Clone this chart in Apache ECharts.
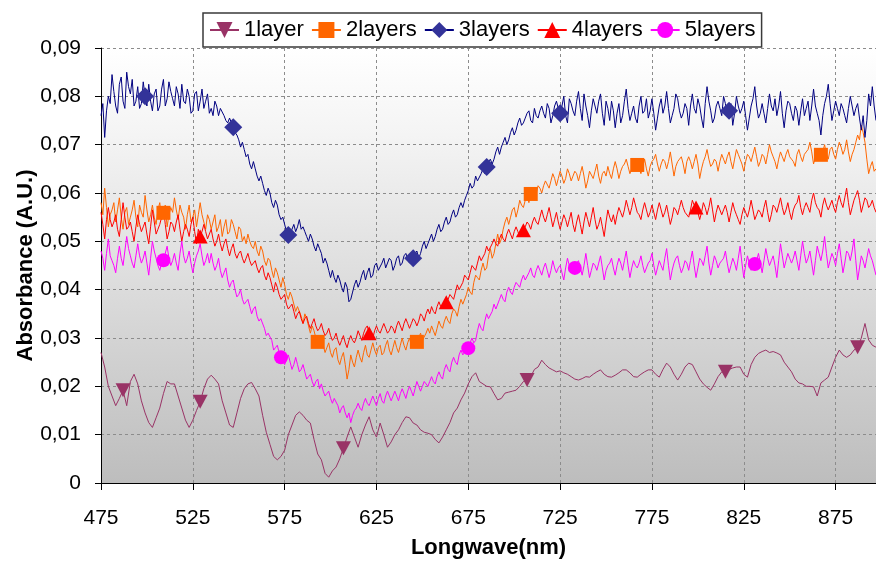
<!DOCTYPE html>
<html>
<head>
<meta charset="utf-8">
<script src="https://cdn.jsdelivr.net/npm/echarts@6/dist/echarts.min.js"></script>
<style>
  html, body { margin: 0; padding: 0; background: #ffffff; }
  #chart { width: 876px; height: 561px; }
</style>
</head>
<body>
<div id="chart"></div>
<script>
// Absorbance spectra of 1 to 5 deposited layers (values in 10^-3 A.U.), starting at 475 nm
const START_NM = 475;
const SCALE = 1000;

const seriesNames = ['1layer', '2layers', '3layers', '4layers', '5layers'];

// 1layer, sampled every 2 nm
const layer1 = [
  27, 24, 20, 18, 16, 17.5, 19.2, 16, 21, 22.5,
  20.5, 17, 14.5, 12.5, 11.5, 13.5, 15.5, 18.5, 21, 20.5,
  20.5, 18, 15.5, 13, 11.5, 13, 15, 16.8, 19.5, 21.5,
  22.3, 21.5, 20.5, 17, 14.5, 12, 11.5, 14.5, 17.5, 19.5,
  20.5, 20.8, 19.5, 18, 14, 10.5, 8, 5.5, 4.8, 5.5,
  6.8, 10, 12, 14, 14.7, 14, 13, 12.4, 9, 6,
  4.8, 2, 1.2, 2.5, 3.3, 5, 7.2, 9.5, 11.6, 9.5,
  7.4, 10, 12, 13.7, 11, 9.5, 12.4, 10, 7.4, 8.5,
  10, 11, 12.5, 13.7, 13.5, 12.4, 12, 11, 10.5, 10.3,
  10, 9, 8.3, 9.5, 11, 12.5, 14.5, 15.5, 17.2, 18.6,
  20.5, 22, 22.8, 21, 20.5, 20, 19.9, 18.5, 17.2, 17.5,
  18.6, 18.8, 19, 19.2, 20, 21, 21.3, 22, 23.5, 24,
  25.4, 24.5, 23.8, 23.4, 23, 23.2, 22.8, 22.5, 22, 21.5,
  21.3, 21.6, 22, 21.9, 22.5, 23, 23.4, 22.5, 22, 21.9,
  22.3, 22.8, 23.4, 23.4, 22.8, 22, 21.9, 22.5, 23, 23.4,
  23.4, 22.5, 21.9, 23.5, 24.8, 24, 22.5, 21.3, 22.5, 24,
  24.8, 24.5, 23, 21.5, 20.5, 19.8, 19.2, 20.5, 22, 23,
  23, 23.5, 23.8, 24, 24, 22.5, 21.9, 24.5, 26, 26.8,
  27.2, 27.5, 27, 27.2, 26.9, 26.5, 25, 24, 23, 21.5,
  20.7, 20.5, 20, 20, 19.9, 18, 20.7, 21.3, 21.9, 24,
  26, 27.5, 26.5, 26, 26.5, 27.5, 28.1, 30, 33, 29.6,
  28.5, 28.1
];

// 2layers to 5layers, sampled every 1 nm (one row = 20 nm)
const layer2 = [
  58, 55.5, 61, 57, 53, 55.5, 56.5, 58, 54, 56.5, 59, 55, 52.5, 56, 57, 53.5, 55, 56.5, 58.5, 55,
  53, 57.5, 56, 55, 59.5, 56.5, 54, 55.5, 57.5, 55, 53.5, 56.5, 58, 54.5, 55.9, 57.5, 53, 55.5, 57, 56,
  59, 56.5, 54.5, 57.5, 56, 55, 52.5, 55.5, 57.5, 54, 55, 56.5, 53, 55.5, 58, 55.5, 54, 52.5, 55.5, 54.5,
  52.5, 54, 55.5, 52, 53, 54.5, 51, 53, 54.5, 51.5, 52, 54.5, 53.5, 52, 50.5, 53, 52.5, 50, 51, 49.5,
  51.5, 50, 49, 48.5, 50, 48, 47, 49, 48, 46, 45, 46.5, 46, 44, 42.5, 44.5, 43.5, 42, 40.5, 42.5,
  41, 39, 38, 39.5, 38.5, 37, 35.5, 36.5, 36.5, 34.5, 33, 35, 34, 32.5, 31, 32.5, 31.5, 30, 29.2, 28.5,
  30.5, 28.5, 27, 28, 29, 27, 26, 27.5, 28, 25.5, 24.5, 26, 27, 24.5, 21.5, 23.5, 26.5, 25, 24, 26,
  27.5, 26, 25, 27, 28.5, 26.5, 26, 27.5, 29, 27.5, 26.5, 28, 28.5, 26.5, 27, 28.5, 29.5, 27.5, 26.5, 28,
  29.5, 28, 27, 28.5, 30, 28.5, 27.5, 29, 30, 28.5, 28, 30, 29.2, 30, 31, 29.5, 29.5, 31, 32, 31,
  32.5, 31.5, 30.5, 32, 33.5, 32.5, 32, 33.5, 34.5, 33.5, 33, 35, 36, 35.5, 34.5, 36.5, 38, 37, 37, 39,
  40.5, 39.5, 39, 41.5, 43, 42.5, 42, 44, 45.5, 44, 44.5, 47, 48.5, 46.5, 47.5, 49.5, 51.5, 49.5, 50.5, 52.5,
  54, 55, 53.5, 55, 56.5, 57, 55, 56.5, 58.5, 57.5, 57, 58.5, 59.5, 58, 59.8, 60.5, 58.5, 60, 61.5, 61,
  60, 61.5, 62.5, 62.5, 61, 62.5, 64, 63, 61.5, 63, 64.5, 63.5, 62, 63, 65, 64, 62.5, 63.5, 64.5, 64,
  62.5, 64, 65.5, 63.5, 61, 62.5, 64.5, 64.5, 63, 64.5, 66, 63.5, 62, 64, 64.5, 63.5, 65.5, 64, 63, 65,
  66.5, 65, 63, 64.5, 65.5, 66, 67, 65.5, 64, 65, 66, 66.5, 65.8, 65, 64, 65.5, 67, 65, 63.5, 65.5,
  66.5, 67, 68, 66, 64.5, 66, 67, 66.5, 65, 66.5, 68.5, 66, 63.5, 65.5, 66.5, 67, 67.5, 66, 64, 66.5,
  67.5, 66.5, 65, 66.5, 68, 66, 63, 65, 66.5, 67.5, 69, 67, 65.5, 66, 67, 66.5, 64.5, 66.5, 68, 67,
  66, 67.5, 68.5, 66.5, 65, 67, 69, 68, 67, 66, 64.5, 66.5, 68, 67.5, 66.5, 68, 69.5, 67.5, 65.5, 66.5,
  68, 67.5, 66, 68, 70, 68.5, 67.5, 66.5, 65, 67, 68.5, 67.5, 66.5, 68, 69, 67.5, 67, 66.5, 65.5, 68,
  69, 67.5, 66.5, 68, 68.5, 69, 70.5, 68.5, 66, 67.5, 68, 69, 67.9, 68.5, 70, 68, 67, 69, 69.5, 68,
  67, 69, 70.5, 69.5, 68, 69, 71, 68.5, 66.5, 68, 69, 70.5, 72, 71, 74, 72.5, 70.5, 67, 64, 65.5,
  66.5, 64.5, 65
];

const layer3 = [
  76, 78.5, 71.5, 77, 80, 78.5, 84.5, 81, 78, 76.5, 82.5, 84, 79, 77.5, 85, 82, 80.5, 83.5, 78, 79,
  82, 77.5, 78.5, 83, 80, 78, 82.5, 79, 77, 80.5, 81.5, 77, 78, 81.5, 83.5, 78, 79.5, 83, 81, 79.5,
  78, 82, 80.5, 77.5, 82.5, 79, 78.5, 81.5, 80, 76.5, 77, 80.5, 81, 77, 79, 81.5, 77.5, 79, 80.5, 76.5,
  77.5, 76, 79, 78, 76, 77.5, 77.5, 76, 75, 74.5, 75.5, 75.5, 73.6, 72.5, 72, 71, 69.5, 70.5, 69, 67.5,
  68, 66, 65, 66.5, 65, 63.5, 62.5, 63.5, 62, 60.5, 59.5, 61, 60, 58, 57, 58.5, 57.5, 55.5, 54.5, 55,
  53.5, 52, 51.3, 50.5, 52.5, 53.5, 52, 53, 54.5, 52.5, 53, 52, 51, 50, 51.5, 50.5, 49, 48, 49.5, 48.5,
  47.5, 45.5, 46.5, 45.5, 44, 42.5, 44, 42.5, 41.5, 43, 42, 40.5, 39.5, 41.5, 40.5, 37.5, 38, 39.5, 41, 42,
  40.5, 41.5, 43, 44, 42, 43.5, 44.5, 42.5, 43, 45, 45.5, 44, 44, 45.5, 46.5, 44.5, 44.5, 46.5, 46, 44,
  45, 46.5, 47, 45, 45.5, 47, 47.5, 46.5, 45.5, 47, 46.5, 47.5, 48, 46.5, 47.5, 49, 50, 48.5, 49.5, 50.5,
  51.5, 50, 51, 52.5, 53.5, 52, 52.5, 54, 55, 53.5, 54, 55.5, 56.5, 55, 55.5, 57, 58, 57, 58.5, 59.5,
  60.5, 62, 61, 61.5, 63.5, 62.5, 62.5, 64, 65, 64, 65.4, 66.5, 67, 66, 67, 68.5, 69.5, 68, 69.5, 70.5,
  71.5, 70, 71, 72.5, 73.5, 72, 73, 74.5, 75.5, 74, 74.5, 75.5, 76.5, 77, 75, 74.5, 77.5, 76, 75.5, 77,
  78, 76.5, 75.5, 78.5, 77.5, 74.5, 76, 78, 79, 77.5, 76.5, 78, 80, 76, 74.5, 79.5, 78.5, 77, 76, 79,
  81, 77.5, 75, 80.5, 78, 76, 73.5, 77, 79.5, 78, 76.5, 79, 80.5, 76.5, 74, 79, 77.5, 75, 79, 77,
  73.5, 76.5, 78.5, 74.5, 76, 79, 81.5, 77.5, 75, 76.5, 78, 75.5, 74.5, 78, 80, 76.5, 77, 79.5, 75.5, 77,
  79.5, 76.5, 73, 75.5, 78, 79.5, 76.5, 78, 81, 77.5, 74.5, 76, 77.5, 80.5, 79.5, 77, 75.5, 76.5, 78.5, 77.5,
  74, 78, 80.5, 77.5, 76.5, 79.5, 78, 75.5, 73.5, 78.5, 82, 79, 77, 74.5, 75.5, 78, 79, 77.5, 76, 80,
  78.5, 76, 77, 78.5, 74, 76.5, 80, 78, 76.5, 77.5, 79, 76, 73, 75.5, 78, 79.5, 82, 78, 75.5, 76.5,
  78.5, 76.5, 74.5, 77.5, 80.5, 78, 77, 79.5, 76, 78, 81, 76.5, 73.5, 77, 79, 78.5, 76.5, 75, 78, 77,
  74, 77, 79.5, 76, 77.5, 79, 75, 78, 81.5, 78, 76.5, 75, 72, 76, 78.5, 80, 82.5, 78.5, 75, 77,
  79, 77.5, 76, 78.5, 77.5, 76, 74.5, 77.5, 80, 78, 76, 77.5, 78.5, 75.5, 73, 76, 71.5, 75, 80.5, 78,
  82, 78, 75
];

const layer4 = [
  56, 53.5, 50.5, 54.5, 57, 54.5, 53, 54, 55.5, 52.5, 51, 54.5, 58, 55, 52.5, 53, 54, 52, 50, 53,
  55.5, 53.5, 52, 53, 54, 51.5, 49.5, 53, 56.5, 54, 51.5, 52.5, 53.5, 55, 57, 53.5, 50.5, 52, 54, 53.5,
  52, 54, 55.5, 52.5, 50, 52, 53.5, 52.5, 51, 53.5, 55, 52, 49.5, 52.5, 51, 52, 53.5, 52, 50.5, 51.5,
  52.5, 50.5, 49, 50, 51.5, 49.5, 48, 49.5, 50.5, 48.5, 47, 48.5, 49.5, 47.5, 46.5, 47.5, 48, 46.5, 45.5, 46.5,
  47.5, 46, 45, 45.5, 46, 44.5, 43.5, 44.5, 45, 43, 42, 43.5, 42.5, 41, 39.5, 41.5, 40.5, 39, 38, 38.5,
  39, 37, 36, 36.5, 37, 35.5, 34, 35, 35.5, 34, 33, 34, 34.5, 33, 32, 33, 34, 32.5, 31.5, 32,
  33, 31.5, 30.5, 31, 32, 30.5, 29.5, 30, 31, 29.5, 28.5, 29.5, 30.5, 29, 28, 29.5, 30.5, 29.5, 29, 30,
  31.5, 30.5, 29.5, 31, 32, 32.5, 31, 30.5, 30, 31.5, 32.5, 31.5, 31, 32, 33, 32, 31, 31.5, 32.5, 32,
  31, 32.5, 33.5, 32.5, 31.5, 33, 34, 33, 32, 33, 34, 33.5, 32.5, 33.5, 35, 34.5, 33.5, 35, 36, 35,
  36.5, 35.5, 35, 36.5, 37.5, 36.5, 36, 37, 37.4, 38, 39, 38.5, 38, 39.5, 41, 40, 40, 41.5, 43, 42.5,
  42, 43.5, 45, 44.5, 44, 45.5, 47, 46, 46, 47.5, 49, 48, 48, 49.5, 50.5, 49.5, 49, 50.5, 51.5, 50.5,
  50, 51.5, 52.5, 51.5, 50.5, 52, 53, 52, 51, 51.5, 52.3, 53, 54, 53.5, 52.5, 54, 55, 54, 53.5, 55,
  56.5, 55, 54, 55.5, 57, 55, 53, 54.5, 56, 54, 52.5, 54, 55.5, 54.5, 53, 54.5, 56, 53.5, 52, 54,
  55.5, 53.5, 51.5, 54, 56, 54.5, 53, 55, 57, 54.5, 52.5, 53.5, 55, 53, 51, 54, 56.5, 55, 54, 55.5,
  53.5, 55.5, 57, 56, 55, 56.5, 58.5, 57, 55.5, 57, 59, 57.5, 56, 55.5, 54.5, 56.5, 58, 56.5, 55, 56,
  57.5, 56, 54.5, 56.5, 58, 56.5, 55, 56, 57.5, 55.5, 53.5, 55, 57, 56.5, 55.5, 57, 58.5, 57, 56, 56,
  55, 56.5, 58.5, 57.5, 57, 56, 54.5, 56, 58, 57, 55.5, 57, 59, 56.5, 54, 56, 57.5, 56.5, 55.5, 56.5,
  57.5, 56, 54, 56, 58, 56.5, 55.5, 54.5, 53.5, 55.5, 57, 56, 55, 56.5, 58.5, 56.5, 54.5, 55.5, 56.5, 56,
  55, 57, 58.5, 56, 54, 55.5, 57.5, 57, 56, 57.5, 59, 57, 55.5, 56.5, 58, 56, 54.5, 56.5, 57.5, 58,
  59.5, 57, 55.5, 57, 58, 57, 56, 58.5, 60, 58, 57, 56.5, 55, 57.5, 59, 57.5, 56.5, 57.5, 58.5, 57,
  56, 58, 59.5, 58, 57, 59, 61, 58, 55.5, 57, 58.5, 59.5, 60.5, 58.5, 56, 57.5, 59, 58.5, 57, 57.5,
  58.5, 57, 56
];

const layer5 = [
  48, 46.5, 44, 47.5, 50.5, 47, 46, 45, 43.5, 46.5, 49, 46.5, 45, 48, 51, 48.5, 47, 45.5, 44.5, 47,
  49.5, 47, 45.5, 46.5, 48, 45.5, 43, 46.5, 50, 48, 46.5, 45, 44, 45.5, 46.1, 47.5, 49, 46.5, 45, 46,
  47.5, 45.5, 44, 47.5, 50, 47, 45.5, 46.5, 48, 45.5, 43.5, 45.5, 47, 48, 49.5, 47, 45, 46, 47.5, 45.5,
  47.5, 45.5, 44, 45, 46.5, 44, 42.5, 43.5, 44.5, 42, 40.5, 41.5, 42, 40, 38.5, 39, 40, 38, 37, 37.5,
  38, 36.5, 35, 36, 36.5, 34.5, 33.5, 34, 34, 32, 30.5, 31, 31, 29.5, 27.5, 28, 28.5, 27, 26, 25.5,
  24.5, 25.5, 26.5, 25, 23.5, 24.5, 26, 24.5, 23, 23.5, 24.5, 23, 21.5, 22, 22.5, 21, 20, 21, 21.5, 19.5,
  20.5, 19, 18, 18.5, 19, 17.5, 16.5, 17.5, 17.5, 16, 14.5, 15.5, 16, 14.5, 13.5, 14.5, 12.5, 14, 15, 15.5,
  16.5, 15.5, 15, 16.5, 17.5, 16.5, 16, 17, 18, 17, 16, 17.5, 18.5, 17, 16.5, 18, 19, 18, 17, 18,
  19, 18, 17, 18.5, 19.5, 18.5, 17.5, 19, 20, 19, 18, 19.5, 21, 20, 19, 20, 21, 20.5, 20, 21,
  22, 21, 20.5, 22, 23, 22, 21.5, 23.5, 24.5, 23.5, 23, 25, 26, 25, 24.5, 26.5, 27.5, 26.5, 26.5, 27.5,
  27.9, 29, 30, 29, 29.5, 31.5, 33, 32, 31.5, 33.5, 35, 34, 34, 35.5, 37, 36, 36, 38, 39, 38,
  37.5, 39.5, 40.5, 39.5, 39, 40.5, 41.5, 41, 40.5, 42, 43, 42, 42, 43.5, 44.5, 43, 42.5, 44, 45, 44,
  43, 44.5, 45.5, 44, 42.5, 44, 46, 44.5, 43.5, 44.5, 45, 43.5, 42, 44.5, 46.5, 45, 43.5, 45, 44.5, 45.5,
  46, 44.5, 43, 45, 47.5, 45, 42.5, 44, 45.5, 45, 44, 45.5, 47, 44.5, 42, 44, 45, 45.5, 46.5, 44.5,
  43, 45, 46.5, 45.5, 44, 46, 48, 45, 42.5, 44.5, 46, 45, 44.5, 45.5, 47, 45, 43.5, 44.5, 45.5, 46,
  47.5, 45, 43, 44.5, 46, 45, 44, 46.5, 48.5, 45, 42, 44, 45.5, 46.5, 47, 45, 43.5, 44.5, 46, 45.5,
  44, 46, 48, 45, 42.5, 44.5, 46.5, 46, 45, 47, 49, 45.5, 43, 45, 47, 46, 44.5, 45.5, 46, 46.5,
  48, 45.5, 43.5, 45, 46.5, 45.5, 44, 46.5, 49, 45.5, 42.5, 45, 47, 45.5, 44, 46.5, 45.3, 46, 47.5, 45.5,
  43.5, 46, 48.5, 46.5, 45, 46, 47, 45, 42.5, 46, 49.5, 47, 44.5, 46, 47.5, 46.5, 45.5, 46.5, 48, 46,
  44, 47, 50, 47.5, 45.5, 46.5, 48, 45.5, 43, 46, 49, 47.5, 46, 48, 51, 47.5, 44.5, 46, 47.5, 46.5,
  45, 47.5, 49.5, 46.5, 43.5, 45.5, 48, 47.5, 46, 48, 50.5, 46, 42, 44.5, 47, 46, 44.5, 46.5, 48.5, 47,
  46, 44.5, 43
];

// Sampling step of each curve (nm)
const stepsNm = [2, 1, 1, 1, 1];

// Wavelengths (nm) that carry a marker on each curve
const markers1 = [487, 529, 607, 707, 815, 887];
const markers2 = [509, 593, 647, 709, 767, 867];
const markers3 = [499, 547, 577, 645, 685, 725, 817];
const markers4 = [529, 621, 663, 705, 799];
const markers5 = [509, 573, 675, 733, 831];

// Axis tick labels
const xTickLabels = ['475', '525', '575', '625', '675', '725', '775', '825', '875'];
const yTickLabels = ['0', '0,01', '0,02', '0,03', '0,04', '0,05', '0,06', '0,07', '0,08', '0,09'];

const FONT = '"Liberation Sans", Arial, sans-serif';

function buildData(values, step, markerNm) {
  return values.map((v, i) => {
    const nm = START_NM + step * i;
    const point = [nm, v / SCALE];
    return markerNm.includes(nm) ? point : { value: point, symbol: 'none' };
  });
}

const styles = [
  { values: layer1, markers: markers1, line: '#993366', fill: '#993366', symbol: 'triangle', size: [15, 14], rotate: 180 },
  { values: layer2, markers: markers2, line: '#FF6600', fill: '#FF6600', symbol: 'rect', size: 14, rotate: 0 },
  { values: layer3, markers: markers3, line: '#000080', fill: '#333399', symbol: 'diamond', size: 18, rotate: 0 },
  { values: layer4, markers: markers4, line: '#FF0000', fill: '#FF0000', symbol: 'triangle', size: [15, 14], rotate: 0 },
  { values: layer5, markers: markers5, line: '#FF00FF', fill: '#FF00FF', symbol: 'circle', size: 14, rotate: 0 }
];

const chart = echarts.init(document.getElementById('chart'), null, { renderer: 'canvas' });

chart.setOption({
  animation: false,
  backgroundColor: '#ffffff',
  textStyle: { fontFamily: FONT },
  grid: {
    left: 101, top: 48, right: 0, bottom: 78,
    show: true,
    borderWidth: 0,
    outerBoundsMode: 'none',
    backgroundColor: {
      type: 'linear', x: 0, y: 0, x2: 0, y2: 1,
      colorStops: [
        { offset: 0, color: '#ffffff' },
        { offset: 0.2, color: '#f4f4f4' },
        { offset: 1, color: '#bdbdbd' }
      ]
    }
  },
  legend: {
    left: 203, top: 13,
    padding: [6, 6],
    itemGap: 7,
    itemWidth: 29,
    itemHeight: 20,
    backgroundColor: '#ffffff',
    borderColor: '#3a3a3a',
    borderWidth: 1.5,
    borderRadius: 0,
    textStyle: { fontSize: 22, color: '#000000', fontFamily: FONT },
    data: seriesNames
  },
  xAxis: {
    type: 'value',
    min: 475, max: 897, interval: 50,
    name: 'Longwave(nm)',
    nameLocation: 'middle',
    nameGap: 54,
    nameMoveOverlap: false,
    nameTextStyle: { fontSize: 22, fontWeight: 'bold', color: '#000000', fontFamily: FONT },
    axisLine: { show: true, lineStyle: { color: '#000000', width: 1.2 } },
    axisTick: { show: true, length: 7, lineStyle: { color: '#000000' } },
    axisLabel: {
      margin: 25, fontSize: 21, color: '#000000', fontFamily: FONT,
      showMaxLabel: false,
      formatter: v => { const k = Math.round((v - 475) / 50); return (Math.abs(v - (475 + 50 * k)) < 1e-6) ? (xTickLabels[k] || '') : ''; }
    },
    splitLine: { show: true, lineStyle: { color: '#8c8c8c', type: [3, 3], width: 1 } }
  },
  yAxis: {
    type: 'value',
    min: 0, max: 0.09, interval: 0.01,
    name: 'Absorbance (A.U.)',
    nameLocation: 'middle',
    nameGap: 64,
    nameMoveOverlap: false,
    nameTextStyle: { fontSize: 22, fontWeight: 'bold', color: '#000000', fontFamily: FONT },
    axisLine: { show: true, lineStyle: { color: '#000000', width: 1 } },
    axisTick: { show: true, length: 6, lineStyle: { color: '#000000' } },
    axisLabel: {
      margin: 20, fontSize: 21, color: '#000000', fontFamily: FONT,
      formatter: v => yTickLabels[Math.round(v * 100)] || ''
    },
    splitLine: { show: true, lineStyle: { color: '#8c8c8c', type: [3, 3], width: 1 } }
  },
  series: styles.map((s, k) => ({
    name: seriesNames[k],
    type: 'line',
    data: buildData(s.values, stepsNm[k], s.markers),
    symbol: s.symbol,
    symbolSize: s.size,
    symbolRotate: s.rotate,
    showSymbol: true,
    showAllSymbol: true,
    lineStyle: { color: s.line, width: 1 },
    itemStyle: { color: s.fill, borderWidth: 0 },
    emphasis: { disabled: true }
  }))
});
</script>
</body>
</html>
